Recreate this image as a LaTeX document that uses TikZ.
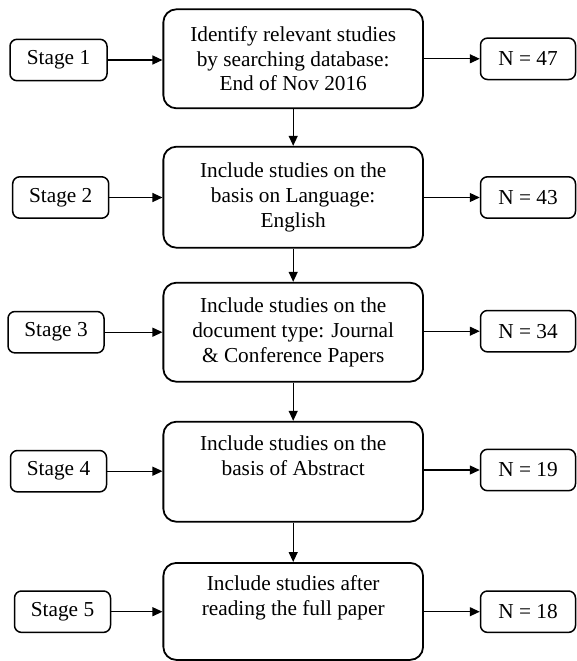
\documentclass[tikz,border=0pt]{standalone}
\usepackage{fontspec}
\setmainfont{Liberation Serif}
\usetikzlibrary{arrows.meta}
\begin{document}
\begin{tikzpicture}[x=1pt,y=-1pt,
  every node/.style={font=\fontsize{21.3}{24.8}\selectfont, inner sep=0pt, align=center},
  mainbox/.style={draw, line width=1.8pt, rounded corners=13pt, minimum width=259.7pt},
  sidebox/.style={draw, line width=1.5pt, rounded corners=7pt, minimum height=41.4pt},
  conn/.style={line width=1.2pt, -{Triangle[length=10pt,width=9pt]}}
]
\useasboundingbox (0,0) rectangle (577,661);
% main boxes
\node[mainbox, minimum height=99pt] (m1) at (293.2,58.8) {Identify relevant studies\\by searching database:\\End of Nov 2016};
\node[mainbox, minimum height=101pt] (m2) at (293.2,197.2) {Include studies on the\\basis on Language:\\English};
\node[mainbox, minimum height=99pt] (m3) at (293.2,332.2) {Include studies on the\\document type: Journal\\\& Conference Papers};
\node[mainbox, minimum height=100pt] (m4) at (293.2,471.7) {Include studies on the\\basis of Abstract\\\strut};
\node[mainbox, minimum height=97pt] (m5) at (293.2,611.4) {Include studies after\\reading the full paper\\\strut};
% stage boxes
\node[sidebox, minimum width=97pt] (s1) at (58.5,60) {Stage 1};
\node[sidebox, minimum width=96pt] (s2) at (60.7,197.5) {Stage 2};
\node[sidebox, minimum width=96pt] (s3) at (56,332.2) {Stage 3};
\node[sidebox, minimum width=96pt] (s4) at (58.5,471.2) {Stage 4};
\node[sidebox, minimum width=96pt] (s5) at (62.5,611.7) {Stage 5};
% N boxes
\node[sidebox, minimum width=95pt] (n1) at (528,58.8) {N = 47};
\node[sidebox, minimum width=95pt] (n2) at (528,197.5) {N = 43};
\node[sidebox, minimum width=95pt] (n3) at (528,331.2) {N = 34};
\node[sidebox, minimum width=95pt] (n4) at (528,470) {N = 19};
\node[sidebox, minimum width=95pt] (n5) at (528,611.7) {N = 18};
% connectors
\foreach \i in {1,...,5}{
  \draw[conn] (s\i.east) -- (s\i.east -| m\i.west);
  \draw[conn] (m\i.east |- n\i.west) -- (n\i.west);
}
\foreach \i/\j in {1/2,2/3,3/4,4/5}{
  \draw[conn] (m\i.south) -- (m\j.north);
}
\end{tikzpicture}
\end{document}
